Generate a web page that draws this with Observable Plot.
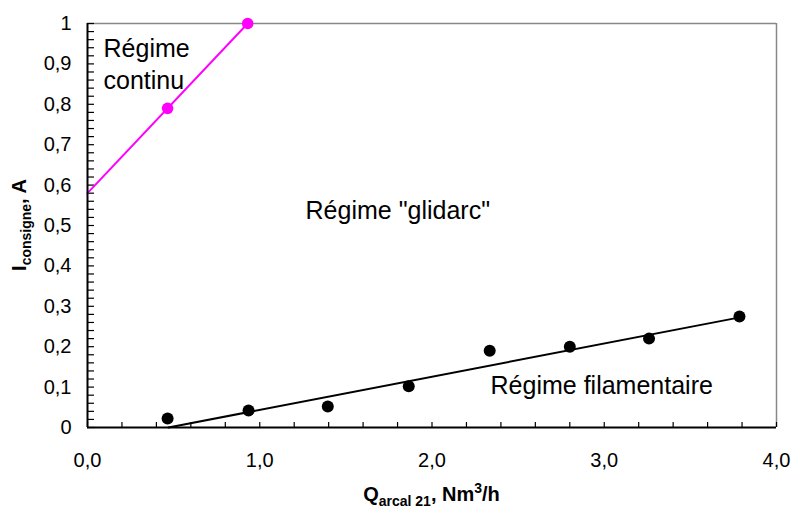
<!DOCTYPE html>
<html>
<head>
<meta charset="utf-8">
<script src="https://cdn.jsdelivr.net/npm/d3@7"></script>
<script src="https://cdn.jsdelivr.net/npm/@observablehq/plot@0.6"></script>
<style>
  html, body { margin: 0; padding: 0; background: #fff; }
  svg { display: block; }
</style>
</head>
<body>
<div id="chart"></div>
<script>
// Régime continu boundary (magenta)
const continuQ = [0.465, 0.93];
const continuI = [0.79, 1.0];
const continuFitQ = [0, 0.93];
const continuFitI = [0.58, 1.0];

// Régime filamentaire boundary (black)
const filQ = [0.465, 0.935, 1.395, 1.865, 2.335, 2.80, 3.26, 3.785];
const filI = [0.022, 0.042, 0.052, 0.102, 0.19, 0.20, 0.22, 0.275];
const filFitQ = [0.47, 3.78];
const filFitI = [0, 0.272];

// Region annotations
const annoText = ["Régime", "continu", "Régime \"glidarc\"", "Régime filamentaire"];
const annoQ = [0.093, 0.093, 1.266, 2.34];
const annoI = [0.916, 0.839, 0.517, 0.084];

const xTicks = [0, 1, 2, 3, 4];
const yTicks = [0, 0.1, 0.2, 0.3, 0.4, 0.5, 0.6, 0.7, 0.8, 0.9, 1];

const continuPts = continuQ.map((q, i) => ({q, v: continuI[i]}));
const continuFit = continuFitQ.map((q, i) => ({q, v: continuFitI[i]}));
const filPts = filQ.map((q, i) => ({q, v: filI[i]}));
const filFit = filFitQ.map((q, i) => ({q, v: filFitI[i]}));
const annos = annoText.map((t, i) => ({t, q: annoQ[i], v: annoI[i]}));

const fmtX = d => d.toFixed(1).replace(".", ",");
const fmtY = d => (d === 0 ? "0" : d === 1 ? "1" : d.toFixed(1).replace(".", ","));

const FONT = "'Liberation Sans', Arial, Helvetica, sans-serif";

const chart = Plot.plot({
  width: 795,
  height: 508,
  marginLeft: 87,
  marginRight: 19,
  marginTop: 23,
  marginBottom: 81,
  style: {fontFamily: FONT, fontSize: "20px", color: "#000", background: "#fff"},
  x: {domain: [0, 4]},
  y: {domain: [0, 1]},
  marks: [
    // frame: top & right gray, left & bottom black
    Plot.ruleY([1], {stroke: "#888", strokeWidth: 1.5}),
    Plot.ruleX([4], {stroke: "#888", strokeWidth: 1.5}),
    // inward minor ticks
    Plot.axisX({ticks: d3.range(0, 4.0001, 0.2), tickSize: -5, text: null, label: null, strokeWidth: 1.2}),
    Plot.axisY({ticks: d3.range(0, 1.0001, 0.02), tickSize: -7, text: null, label: null, strokeWidth: 1.2}),
    // tick labels
    Plot.axisX({ticks: xTicks, tickSize: 0, tickPadding: 25, tickFormat: fmtX, label: null, fontSize: 20}),
    Plot.axisY({ticks: yTicks, tickSize: 0, tickPadding: 16, tickFormat: fmtY, label: null, fontSize: 20}),
    // boundary lines
    Plot.line(continuFit, {x: "q", y: "v", stroke: "#ff00ff", strokeWidth: 2}),
    Plot.dot(continuPts, {x: "q", y: "v", r: 5.8, fill: "#ff00ff", stroke: "none"}),
    Plot.line(filFit, {x: "q", y: "v", stroke: "#000", strokeWidth: 2}),
    Plot.dot(filPts, {x: "q", y: "v", r: 6, fill: "#000", stroke: "none"}),
    Plot.ruleX([0], {stroke: "#000", strokeWidth: 2}),
    Plot.ruleY([0], {stroke: "#000", strokeWidth: 2}),
    // annotations
    Plot.text(annos, {x: "q", y: "v", text: "t", textAnchor: "start", lineAnchor: "bottom", fontSize: 25, fill: "#000"})
  ]
});

document.getElementById("chart").appendChild(chart);

// Axis titles with subscripts / superscripts
const sx = chart.scale("x"), sy = chart.scale("y");
const cx = (sx.apply(0) + sx.apply(4)) / 2;
const cy = (sy.apply(0) + sy.apply(1)) / 2;
const svg = d3.select(chart);

const xl = svg.append("text")
  .attr("x", cx).attr("y", 501)
  .attr("text-anchor", "middle")
  .attr("font-family", FONT).attr("font-weight", "bold").attr("font-size", 20).attr("fill", "#000");
xl.append("tspan").text("Q");
xl.append("tspan").attr("font-size", 14).attr("dy", 5).text("arcal 21");
xl.append("tspan").attr("dy", -5).text(", Nm");
xl.append("tspan").attr("font-size", 14).attr("dy", -8).text("3");
xl.append("tspan").attr("dy", 8).text("/h");

const yl = svg.append("text")
  .attr("transform", `translate(26,${cy}) rotate(-90)`)
  .attr("text-anchor", "middle")
  .attr("font-family", FONT).attr("font-weight", "bold").attr("font-size", 20).attr("fill", "#000");
yl.append("tspan").text("I");
yl.append("tspan").attr("font-size", 14).attr("dy", 5).text("consigne");
yl.append("tspan").attr("dy", -5).text(", A");
</script>
</body>
</html>
